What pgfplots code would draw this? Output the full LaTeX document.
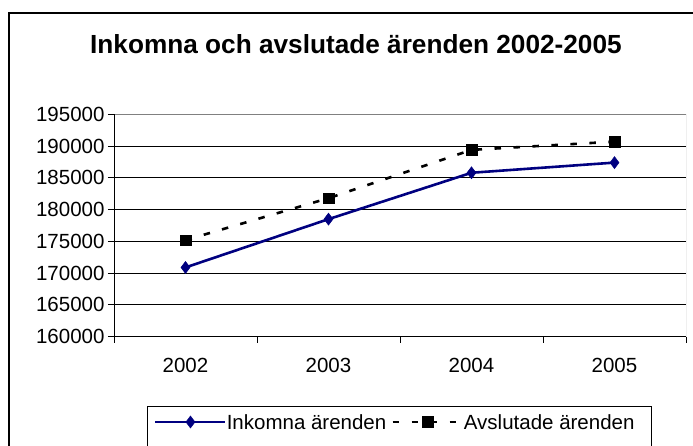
\documentclass[border=0pt]{standalone}
\usepackage{fontspec}
\setmainfont{Liberation Sans}
\usepackage{pgfplots}
\pgfplotsset{compat=1.18}
\definecolor{navyx}{RGB}{0,0,128}
\begin{document}
\begin{tikzpicture}[x=1pt,y=1pt]
\useasboundingbox (0,0) rectangle (693,445);
\clip (0,0) rectangle (693,445);
\fill[white] (0,0) rectangle (693,445);
\draw[line width=2pt] (9,-10) -- (9,432) -- (710,432);
\node[anchor=base west, inner sep=0pt, font=\fontsize{26.2}{30}\selectfont\bfseries] at (90,391.5) {Inkomna och avslutade ärenden 2002-2005};
\begin{axis}[
 at={(114pt,108.3pt)}, anchor=south west,
 width=572pt, height=222.4pt, scale only axis,
 xmin=-0.5, xmax=3.5, ymin=160000, ymax=195000,
 axis line style={draw=none},
 xtick={-0.5,0.5,1.5,2.5,3.5}, xticklabels={},
 extra x ticks={0,1,2,3}, extra x tick labels={2002,2003,2004,2005},
 extra x tick style={major tick length=0pt, grid=none, xticklabel style={yshift=-18pt}},
 ytick={160000,165000,...,190000},
 extra y ticks={195000}, extra y tick style={grid=none},
 ymajorgrids, major grid style={black, line width=0.9pt},
 tick align=outside, major tick length=6pt, xtick pos=left, ytick pos=left,
 tick style={black, line width=1pt},
 scaled y ticks=false,
 /pgf/number format/assume math mode=true,
 yticklabel style={/pgf/number format/fixed, /pgf/number format/1000 sep={}},
 ticklabel style={font=\fontsize{20.5}{24}\selectfont},
 legend columns=2,
 legend style={draw=none, fill=none, at={(0.0699,-0.3835)}, anchor=west, inner sep=0pt,
   nodes={inner sep=0pt, text depth=0pt, font=\fontsize{20.5}{24}\selectfont},
   /tikz/every odd column/.append style={column sep=0pt},
   /tikz/every even column/.append style={column sep=5pt}},
 legend image code/.code={\draw[mark repeat=2, mark phase=2, #1] plot coordinates {(0pt,0pt) (35pt,0pt) (70pt,0pt)};},
]
\addplot[navyx, line width=2.6pt, mark=diamond*, mark size=6pt, mark options={solid, fill=navyx, line width=0.5pt}]
 coordinates {(0,170900)(1,178500)(2,185800)(3,187400)};
\addlegendentry{Inkomna ärenden}
\addplot[black, line width=2.6pt, dash pattern=on 6.5pt off 12.5pt, mark=square*, mark size=5.3pt, mark options={solid, fill=black, line width=0.5pt}]
 coordinates {(0,175200)(1,181800)(2,189400)(3,190700)};
\addlegendentry{Avslutade ärenden}
\draw[black!50, line width=1pt] (rel axis cs:0,1) -- (rel axis cs:1,1) -- (rel axis cs:1,0);
\draw[black, line width=1pt] (rel axis cs:0,1) -- (rel axis cs:0,0) -- (rel axis cs:1,0);
\end{axis}
\draw[black, line width=1pt] (147,39) rectangle (651,-10);
\end{tikzpicture}
\end{document}
